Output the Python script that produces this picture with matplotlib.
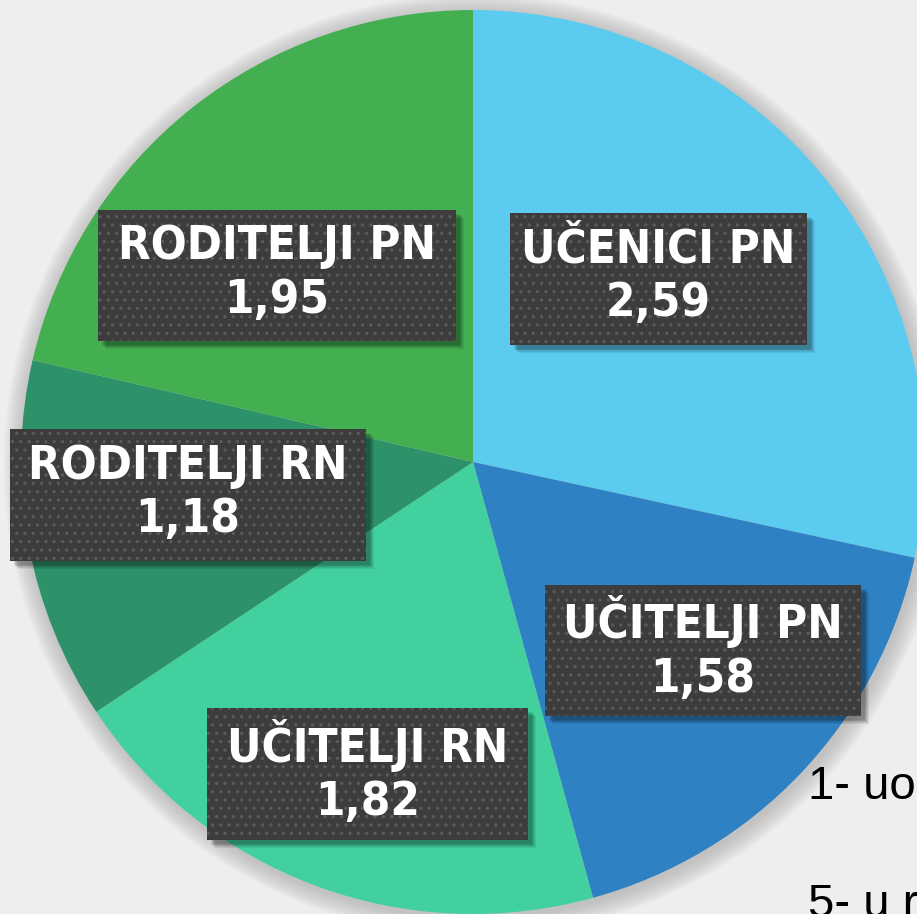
import numpy as np
import matplotlib.pyplot as plt
from matplotlib.patches import Rectangle, Circle

# data
groups = ['UČENICI PN', 'UČITELJI PN', 'UČITELJI RN', 'RODITELJI RN', 'RODITELJI PN']
values = [2.59, 1.58, 1.82, 1.18, 1.95]
colors = ['#5BCBEF', '#2E81C3', '#42D09F', '#2D9169', '#43AF51']

# label boxes in pixel coords (x0, y0_top, x1, y1_bottom)
boxes = [(510, 213, 807, 345), (545, 585, 861, 716), (207, 708, 528, 840),
         (10, 429, 366, 561), (98, 210, 456, 341)]

plt.rcParams['hatch.linewidth'] = 1.2

W, H = 917, 914
fig = plt.figure(figsize=(W / 100, H / 100), dpi=100)
fig.patch.set_facecolor('#EEEEEE')
ax = fig.add_axes([0, 0, 1, 1])
ax.set_xlim(0, W)
ax.set_ylim(0, H)
ax.set_aspect('equal')
ax.axis('off')

# background: light radial glow behind the pie
cx, cy, r = 473, H - 462, 452
for k in range(30, 0, -1):
    ax.add_patch(Circle((cx - 40, cy + 40), r + 10 + k * 6, color='white',
                        alpha=0.06, lw=0, zorder=0))
# soft shadow round the pie
for k in range(12, 0, -1):
    ax.add_patch(Circle((cx + 2, cy - 3), r + k * 1.6, color='#9A9A9A',
                        alpha=0.05, lw=0, zorder=1))

ax.pie(values, colors=colors, startangle=90, counterclock=False,
       center=(cx, cy), radius=r, frame=True,
       wedgeprops=dict(linewidth=0, zorder=2))
ax.set_xlim(0, W)
ax.set_ylim(0, H)
ax.axis('off')

for name, val, (x0, y0, x1, y1) in zip(groups, values, boxes):
    bw, bh = x1 - x0, y1 - y0
    # shadow
    for k in range(6, 0, -1):
        ax.add_patch(Rectangle((x0 + 3 + k * 0.8, H - y1 - 3 - k * 0.8), bw, bh,
                               color='black', alpha=0.07, lw=0, zorder=3))
    ax.add_patch(Rectangle((x0, H - y1), bw, bh, facecolor='#3C3C3C',
                           edgecolor='#5A5A5A', hatch='..', lw=0, zorder=4))
    txt = f"{name}\n{val:.2f}".replace('.', ',')
    ax.text((x0 + x1) / 2, H - (y0 + y1) / 2 + 2, txt, color='white',
            fontsize=34, fontweight='bold', family='DejaVu Sans',
            fontstretch='condensed',
            ha='center', va='center', linespacing=1.25, zorder=5)

ax.text(808, H - 787, '1- uo', fontsize=34, family='Liberation Sans',
        color='black', ha='left', va='center', zorder=6)
ax.text(808, H - 905, '5- u r', fontsize=34, family='Liberation Sans',
        color='black', ha='left', va='center', zorder=6)

fig.savefig('out.png', dpi=100, facecolor=fig.get_facecolor())
